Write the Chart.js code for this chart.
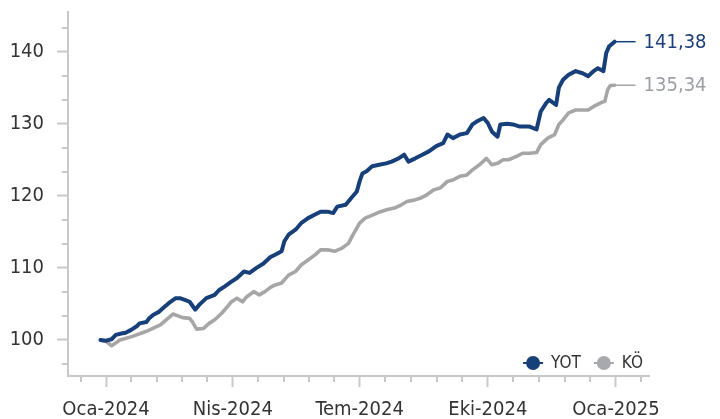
<!DOCTYPE html>
<html>
<head>
<meta charset="utf-8">
<script src="https://cdn.jsdelivr.net/npm/chart.js@4.4.1/dist/chart.umd.min.js"></script>
<style>
  html, body { margin: 0; padding: 0; background: #ffffff; }
  #wrap { width: 720px; height: 419px; }
</style>
</head>
<body>
<div id="wrap"><canvas id="c" width="720" height="419"></canvas></div>
<script>
// ---- Data ----
// x values: days since 2024-01-01
const seriesNames = ['YOT', 'KÖ'];
const yotDays = [-4,0,4,7,11,14,18,22,24,29,31,34,38,42,45,50,53,56,60,64,67,72,78,81,85,90,94,99,103,108,113,118,121,126,128,131,136,140,145,150,154,159,163,166,172,176,180,182,184,187,191,196,201,205,210,214,217,222,227,232,237,242,245,249,254,259,263,266,271,274,277,281,283,288,292,297,304,309,312,316,318,323,325,328,332,337,342,346,350,353,357,359,361,365];
const yotValues = [100.0,99.9,100.1,100.7,100.9,101.0,101.4,101.9,102.3,102.5,103.0,103.5,103.9,104.6,105.1,105.8,105.8,105.6,105.3,104.2,104.9,105.8,106.25,106.9,107.4,108.1,108.6,109.5,109.3,110.0,110.6,111.5,111.8,112.3,113.7,114.6,115.3,116.2,116.9,117.4,117.8,117.8,117.6,118.5,118.75,119.7,120.6,122.0,123.1,123.4,124.1,124.3,124.5,124.75,125.2,125.7,124.75,125.2,125.7,126.2,126.9,127.3,128.5,128.0,128.5,128.7,129.9,130.3,130.8,130.1,128.9,128.2,129.9,130.0,129.9,129.6,129.6,129.2,131.7,132.9,133.3,132.6,135.0,136.1,136.8,137.3,137.0,136.6,137.3,137.7,137.3,139.8,140.7,141.38];
const koDays = [-4,0,4,10,19,29,39,48,55,60,62,65,70,74,78,83,87,90,94,98,101,106,110,114,118,121,126,131,136,140,145,150,154,159,164,169,174,177,182,186,192,197,202,207,212,216,221,226,230,235,240,245,249,254,259,263,268,273,277,281,285,289,295,299,304,309,312,317,322,325,327,332,337,343,346,350,355,358,360,362,365];
const koValues = [100.0,99.8,99.2,100.0,100.5,101.2,102.1,103.6,103.1,103.0,102.5,101.5,101.6,102.3,102.8,103.7,104.6,105.3,105.8,105.3,106.0,106.7,106.25,106.7,107.3,107.6,107.9,109.0,109.5,110.4,111.1,111.8,112.5,112.5,112.3,112.7,113.4,114.5,116.2,116.9,117.4,117.8,118.1,118.3,118.75,119.2,119.4,119.7,120.1,120.8,121.1,122.0,122.2,122.7,122.9,123.6,124.3,125.2,124.3,124.5,125.0,125.0,125.5,125.9,125.9,126.0,127.1,128.0,128.5,129.9,130.3,131.5,131.9,131.9,131.9,132.4,132.9,133.1,134.7,135.3,135.34];
const endLabels = ['141,38', '135,34'];

// Tick labels
const xTickDays = [0, 91, 182, 274, 366];
const xTickLabels = ['Oca-2024', 'Nis-2024', 'Tem-2024', 'Eki-2024', 'Oca-2025'];
const yTickValues = [100, 110, 120, 130, 140];

// ---- Styling ----
const FONT = "'DejaVu Sans Condensed', 'DejaVu Sans', 'Liberation Sans', sans-serif";
const AXIS = '#c8c8c8';
const TEXT = '#333333';
const BLUE = '#173f79';
const GRAY = '#a6a6a6';
const BLUE_LABEL = '#1d3f7a';
const GRAY_LABEL = '#9ca0a6';

function toXY(xs, ys) { return xs.map((x, i) => ({ x: x, y: ys[i] })); }

function xAllTicks() {
  const out = [];
  const step = (xTickDays[1] - xTickDays[0]) / 5;
  out.push({ value: xTickDays[0] - step, major: false });
  for (let i = 0; i < xTickDays.length; i++) {
    out.push({ value: xTickDays[i], major: true });
    if (i < xTickDays.length - 1) {
      const s = (xTickDays[i + 1] - xTickDays[i]) / 5;
      for (let k = 1; k < 5; k++) out.push({ value: xTickDays[i] + s * k, major: false });
    }
  }
  out.push({ value: xTickDays[xTickDays.length - 1] + step, major: false });
  return out;
}
function yAllTicks() {
  const out = [];
  const d = (yTickValues[1] - yTickValues[0]) / 3;
  out.push({ value: yTickValues[0] - d, major: false });
  for (let i = 0; i < yTickValues.length; i++) {
    out.push({ value: yTickValues[i], major: true });
    out.push({ value: yTickValues[i] + d, major: false });
    out.push({ value: yTickValues[i] + 2 * d, major: false });
  }
  return out.filter(t => t.value <= 145.5);
}

const minorTicks = {
  id: 'minorTicks',
  afterDraw(chart) {
    const ctx = chart.ctx;
    const xs = chart.scales.x, ys = chart.scales.y;
    const a = chart.chartArea;
    ctx.save();
    ctx.strokeStyle = AXIS;
    ctx.lineWidth = 2;
    xAllTicks().filter(t => !t.major).forEach(t => {
      const px = Math.round(xs.getPixelForValue(t.value));
      ctx.beginPath(); ctx.moveTo(px, a.bottom); ctx.lineTo(px, a.bottom + 6); ctx.stroke();
    });
    yAllTicks().filter(t => !t.major).forEach(t => {
      const py = Math.round(ys.getPixelForValue(t.value));
      ctx.beginPath(); ctx.moveTo(a.left - 6, py); ctx.lineTo(a.left, py); ctx.stroke();
    });
    ctx.restore();
  }
};

const endLabelPlugin = {
  id: 'endLabels',
  afterDatasetsDraw(chart) {
    const ctx = chart.ctx;
    const colors = [BLUE_LABEL, GRAY_LABEL];
    const lineColors = [BLUE, GRAY];
    ctx.save();
    chart.data.datasets.forEach((ds, i) => {
      const meta = chart.getDatasetMeta(i);
      const last = meta.data[meta.data.length - 1];
      const x = last.x, y = last.y;
      ctx.strokeStyle = lineColors[i];
      ctx.lineWidth = 1.5;
      ctx.beginPath(); ctx.moveTo(x, y); ctx.lineTo(x + 21, y); ctx.stroke();
      ctx.fillStyle = colors[i];
      ctx.font = '20px ' + FONT;
      ctx.textBaseline = 'middle';
      ctx.textAlign = 'left';
      ctx.fillText(endLabels[i], x + 29, y + 1);
    });
    ctx.restore();
  }
};

const legendPlugin = {
  id: 'customLegend',
  afterDraw(chart) {
    const ctx = chart.ctx;
    const a = chart.chartArea;
    const colors = [BLUE, '#a7a9ac'];
    ctx.save();
    ctx.font = '17px ' + FONT;
    ctx.textBaseline = 'middle';
    const y = a.bottom - 13;
    const widths = seriesNames.map(n => ctx.measureText(n).width);
    const markerW = 20, gapText = 8, gapItem = 13;
    let total = 0;
    widths.forEach((w, i) => { total += markerW + gapText + w + (i < widths.length - 1 ? gapItem : 0); });
    let x = a.right - 6 - total;
    seriesNames.forEach((n, i) => {
      ctx.strokeStyle = colors[i];
      ctx.fillStyle = colors[i];
      ctx.lineWidth = 2;
      ctx.beginPath(); ctx.moveTo(x, y); ctx.lineTo(x + markerW, y); ctx.stroke();
      ctx.beginPath(); ctx.arc(x + markerW / 2, y, 7, 0, Math.PI * 2); ctx.fill();
      ctx.fillStyle = TEXT;
      ctx.textAlign = 'left';
      ctx.fillText(n, x + markerW + gapText, y + 1);
      x += markerW + gapText + widths[i] + gapItem;
    });
    ctx.restore();
  }
};

new Chart(document.getElementById('c'), {
  type: 'line',
  data: {
    datasets: [
      { label: seriesNames[0], data: toXY(yotDays, yotValues), borderColor: BLUE, borderWidth: 4,
        pointRadius: 0, tension: 0, fill: false, borderJoinStyle: 'round', borderCapStyle: 'round' },
      { label: seriesNames[1], data: toXY(koDays, koValues), borderColor: GRAY, borderWidth: 3.6,
        pointRadius: 0, tension: 0, fill: false, borderJoinStyle: 'round', borderCapStyle: 'round' }
    ]
  },
  options: {
    responsive: false,
    animation: false,
    devicePixelRatio: 1,
    layout: { padding: { top: 12, right: 71, left: 0, bottom: 0 } },
    plugins: { legend: { display: false }, tooltip: { enabled: false } },
    scales: {
      x: {
        type: 'linear',
        min: -27.3, max: 389.7,
        afterBuildTicks(scale) { scale.ticks = xAllTicks().map(t => ({ value: t.value })); },
        afterFit(scale) { scale.height = 43; scale.paddingLeft = 0; scale.paddingRight = 0; },
        border: { display: true, color: AXIS, width: 2 },
        grid: {
          display: true, drawOnChartArea: false, drawTicks: true, tickLength: 11, tickWidth: 2,
          tickColor: (c) => (c.tick && xTickDays.indexOf(c.tick.value) >= 0) ? AXIS : 'rgba(0,0,0,0)'
        },
        ticks: {
          autoSkip: false, maxRotation: 0, minRotation: 0, padding: 11,
          color: TEXT, font: { family: FONT, size: 20 },
          callback: (v) => { const i = xTickDays.indexOf(v); return i >= 0 ? xTickLabels[i] : ''; }
        }
      },
      y: {
        type: 'linear',
        min: 95, max: 145.5,
        afterBuildTicks(scale) { scale.ticks = yAllTicks().map(t => ({ value: t.value })); },
        afterFit(scale) { scale.width = 68; scale.paddingTop = 0; scale.paddingBottom = 0; },
        border: { display: true, color: AXIS, width: 2 },
        grid: {
          display: true, drawOnChartArea: false, drawTicks: true, tickLength: 11, tickWidth: 2,
          tickColor: (c) => (c.tick && yTickValues.indexOf(c.tick.value) >= 0) ? AXIS : 'rgba(0,0,0,0)'
        },
        ticks: {
          autoSkip: false, padding: 13,
          color: TEXT, font: { family: FONT, size: 20 },
          callback: (v) => yTickValues.indexOf(v) >= 0 ? String(v) : ''
        }
      }
    }
  },
  plugins: [minorTicks, endLabelPlugin, legendPlugin]
});
</script>
</body>
</html>
